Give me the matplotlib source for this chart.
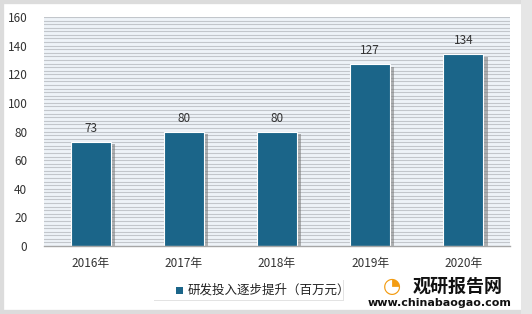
import matplotlib
matplotlib.use("Agg")
import matplotlib.pyplot as plt
import matplotlib.patheffects as pe
from matplotlib.patches import Rectangle, FancyBboxPatch
import numpy as np

plt.rcParams['font.family'] = ['Noto Sans CJK SC', 'DejaVu Sans']

categories = ["2016年", "2017年", "2018年", "2019年", "2020年"]
values = [73, 80, 80, 127, 134]
series_name = "研发投入逐步提升（百万元）"
yticks = [0, 20, 40, 60, 80, 100, 120, 140, 160]

W, H = 532, 314
fig = plt.figure(figsize=(W / 100, H / 100), dpi=100)
fig.patch.set_facecolor("white")

# outer gray frame
fig.patches.append(Rectangle((0, 0), 1, 1, transform=fig.transFigure,
                             fill=False, edgecolor="#DCDCDC", linewidth=6, zorder=0))
fig.patches.append(Rectangle((521 / W, 0), 11 / W, 1, transform=fig.transFigure,
                             facecolor="#E6E6E6", edgecolor="none", zorder=0))

ax = fig.add_axes([44 / W, 1 - 246 / H, (510 - 44) / W, (246 - 17) / H])
ax.set_facecolor("#EEF3F8")
x = np.arange(len(categories))
ax.set_xlim(-0.5, len(categories) - 0.5)
ax.set_ylim(0, 160)

# striped background lines
for yv in np.arange(2.5, 160.01, 2.5):
    ax.axhline(yv, color="#C2C6CB", linewidth=0.8, zorder=0.5)

bars = ax.bar(x, values, width=0.43, color="#1B6589", edgecolor="white",
              linewidth=0.8, zorder=3)
for b in bars:
    b.set_path_effects([pe.SimplePatchShadow(offset=(3, -2), shadow_rgbFace="#777777", alpha=0.55),
                        pe.Normal()])

for xi, v in zip(x, values):
    ax.annotate(str(v), (xi, v), xytext=(0, 5), textcoords="offset points",
                ha="center", va="bottom", fontsize=8.5, color="#333333", zorder=4)

for s in ["top", "right", "left"]:
    ax.spines[s].set_visible(False)
ax.spines["bottom"].set_color("#A6A6A6")
ax.spines["bottom"].set_linewidth(1)
ax.spines["bottom"].set_zorder(4)

ax.set_xticks(x)
ax.set_xticklabels(categories, fontsize=8.5, color="#333333")
ax.set_yticks(yticks)
ax.set_yticklabels([str(t) for t in yticks], fontsize=8.5, color="#333333")
ax.tick_params(axis="both", length=0)
ax.tick_params(axis="x", pad=8)
ax.tick_params(axis="y", pad=12)

# legend
leg_ax_box = FancyBboxPatch((153 / W, 1 - 300 / H), 190 / W, 21 / H,
                            boxstyle="square,pad=0", transform=fig.transFigure,
                            facecolor="white", edgecolor="none", zorder=5)
leg_ax_box.set_path_effects([pe.SimplePatchShadow(offset=(1, -1), shadow_rgbFace="#BBBBBB", alpha=0.4), pe.Normal()])
fig.patches.append(leg_ax_box)
fig.patches.append(Rectangle((176 / W, 1 - 294 / H), 7 / W, 7 / H, transform=fig.transFigure,
                             facecolor="#1B6589", edgecolor="none", zorder=6))
fig.text(188 / W, 1 - 290 / H, series_name, fontsize=9, color="#222222",
         va="center", ha="left", zorder=6)

# watermark
fig.text(392 / W, 1 - 286 / H, "\u25D4", fontsize=15, color="#F39C12", ha="center", va="center")
fig.text(413 / W, 1 - 286 / H, "观研报告网", fontsize=13, fontweight="bold",
         color="#111111", ha="left", va="center")
fig.text(440 / W, 1 - 303 / H, "www.chinabaogao.com", fontsize=8, fontweight="bold",
         color="#111111", ha="center", va="center", family=["DejaVu Sans"])

fig.savefig("out.png", dpi=100)
